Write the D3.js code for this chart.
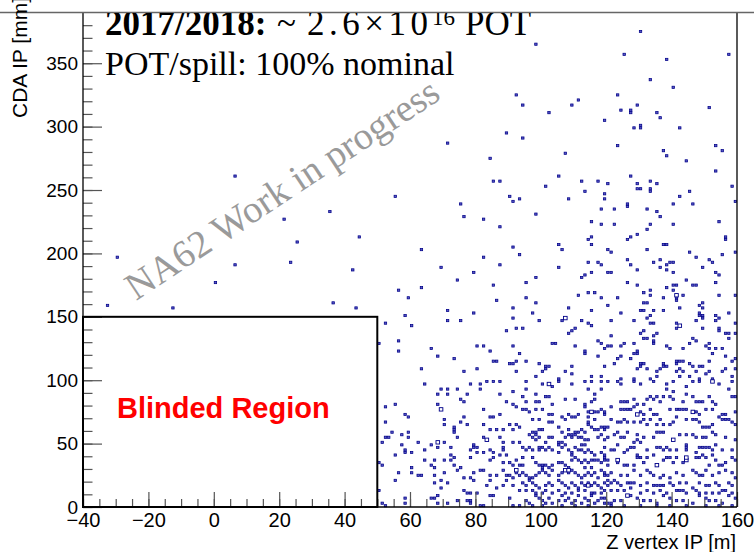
<!DOCTYPE html>
<html><head><meta charset="utf-8">
<script src="https://cdn.jsdelivr.net/npm/d3@7"></script>
<style>body{margin:0;background:#fff}svg{display:block}</style>
</head><body>
<svg id="c" width="754" height="552"></svg>
<script>
// ---- data: [Z vertex bin (m), CDA bin (mm)] ----
const sparseUpper = [[130,374],[98,364],[125,356],[157,356],[138,352],[133,336],[140,330],[92,324],[94,316],[102,310],[109,316],[111,320],[123,324],[124,312],[127,312],[127,310],[129,316],[135,310],[136,306],[151,314],[119,304],[128,298],[130,300],[130,298],[142,298],[89,294],[94,290],[71,286],[123,284],[153,284],[155,280],[137,280],[138,276],[107,278],[84,274],[144,272],[153,264],[105,260],[127,260],
[6,260],[55,244],[35,232],[21,226],[25,208],[44,212],[-30,196],[6,190],[23,192],[42,186],[0,176],[56,170],[59,164],[-33,158],[-13,156],[36,160],[43,156],[58,150]];

const midBand = [[85,256],[87,256],[101,252],[112,256],[117,256],[120,254],[129,254],[133,256],[135,254],[158,252],
[129,250],[130,250],[133,250],[133,248],[113,248],[145,248],
[90,244],[91,240],[93,242],[108,242],[119,246],[119,242],[142,244],[159,240],
[75,238],[126,238],[126,236],[140,238],[146,238],[118,234],[122,234],[132,234],[135,232],[136,228],
[98,230],[76,228],[82,226],[87,220],[115,224],[118,222],[122,222],[133,222],[140,222],[154,224],[132,218],
[105,206],[106,202],[91,204],[93,198],[63,202],[82,196],[114,210],[115,212],[115,206],[126,210],[127,212],[129,214],[137,206],[138,206],[120,202],[121,200],[132,202],[145,200],[147,196],[155,198],[156,212],[156,210],[159,200],
[69,188],[79,184],[87,190],[105,188],[114,192],[117,192],[118,190],[126,194],[127,190],[129,186],[136,194],[134,192],[138,190],[139,192],[140,192],[136,188],[138,186],[140,184],[151,194],[152,192],[149,188],[153,184],[154,182],
[74,178],[85,174],[95,176],[98,180],[63,172],[113,182],[112,180],[115,184],[120,184],[121,184],[126,176],[129,174],[133,170],[131,168],[133,166],[140,174],[141,174],[138,172],[140,170],[141,164],[143,166],[144,178],[146,174],[147,174],[153,176],[159,166],
[86,162],[91,156],[95,164],[98,160],[111,166],[114,168],[116,168],[118,164],[123,164],[120,158],[131,160],[132,160],[137,164],[141,162],[142,156],[149,160],[148,158],[149,156],[154,166],
[71,154],[79,152],[91,148],[97,152],[108,156],[115,154],[124,152],[130,154],[131,154],[134,154],[137,154],[133,150],[132,148],[148,152],[148,150],[149,150],[149,148],[153,150],[154,148],[157,152],[71,146],[75,146],[99,146],[106,146],[112,146],[121,146],[128,146],[133,144],[134,144],[147,146],[153,146],[141,144],[159,144],
[89,138],[92,140],[94,140],[108,136],[109,138],[110,140],[114,144],[115,142],[121,134],[130,136],[131,138],[135,136],[134,134],[141,140],[149,140],[154,140],[154,138],[156,136],[157,136],[159,136],
[66,124],[68,118],[73,116],[80,126],[82,126],[84,122],[85,114],[86,114],[91,126],[93,120],[92,114],[91,112],[90,112],[95,114],[99,112],[103,128],[104,128],[110,126],[113,122],[113,120],[117,130],[118,128],[117,118],[120,126],[121,126],[119,124],[124,126],[125,128],[128,128],[124,118],[123,116],[128,120],[129,122],[129,120],[131,132],[132,132],[134,130],[134,128],[138,126],[139,124],[143,124],[145,128],[146,132],[147,130],[150,126],[151,128],[151,124],[152,120],[153,124],[155,124],[157,132],[156,118],
[63,108],[76,106],[80,108],[92,106],[101,110],[102,110],[101,108],[100,106],[107,106],[109,110],[109,104],[119,110],[122,112],[127,116],[130,112],[131,112],[130,110],[132,108],[129,108],[135,106],[136,108],[137,112],[137,110],[138,110],[141,114],[142,114],[143,114],[141,112],[142,108],[141,106],[143,106],[145,112],[146,110],[148,110],[149,110],[147,106],[150,104],[151,114],[151,106],[155,106],[156,108],[158,114],[158,102],[159,116],[159,108],
[98,102],[105,100],[115,102],[118,102],[124,100],[128,100],[133,100],[135,102],[142,102],[145,102],[148,100],[152,100]];

const nearBox = [[52,144],[60,142],[50,128],[56,130],[56,122],[64,96],[69,92],[71,92],[74,92],[68,88],[71,88],[77,88],[75,84],[76,82],[52,78],[55,80],[68,80],[69,76],[58,72],[59,70],[76,70],[52,66],[70,68],[70,64],[75,66],[77,64],[54,58],[59,58],[73,62],[73,60],[73,58],[52,54],[53,54],[57,56],[59,54],[74,54],[51,50],[57,48],[62,50],[66,48],[68,50],[70,50],[68,46],[72,46],[58,44],[58,42],[60,42],[55,40],[64,44],[72,40],[73,38],[64,36],[67,36],[70,36],[72,36],[50,34],[51,32],[66,32],[67,30],[73,32],[75,30],[74,28],[60,30],[60,26],[56,26],[62,24],[63,24],[67,24],[70,26],[55,20],[69,20],[71,18],[67,18],[76,22],[50,12],[76,12],[69,14],[77,10],[68,8],[66,6],[67,6],[77,4],[58,6],[51,2],[52,0],[58,2],[68,2],[71,2],[74,4],[78,96],[79,48],[78,22],[78,10],[80,10],[78,4],[78,2]];

const edgeBand = [[81,96],[81,92],[83,98],[85,98],[87,98],[95,98],[95,92],[100,96],[102,96],[103,94],[105,98],[109,96],[113,98],[114,92],[115,98],[118,98],[118,92],[120,98],[123,98],[124,96],[128,98],[130,96],[134,98],[138,96],[140,98],[144,94],[146,98],[148,98],[152,98],[154,96],[158,98],[157,92],[138,92],[91,90],[98,88],[140,90],[144,88],[116,88]];

const coreLeft = [[87,88],[89,82],[91,80],[94,86],[95,82],[98,82],[99,82],[101,86],[102,86],[103,80],[107,84],[110,84],[113,80],[115,82],[116,84],
[82,76],[84,70],[85,70],[87,72],[92,78],[94,76],[95,76],[96,74],[98,76],[100,76],[102,72],[103,72],[106,70],[107,68],[108,72],[109,70],[110,70],[111,72],[113,78],[114,74],[115,74],[116,74],[117,74],[118,76],[119,72],[114,70],[114,66],[116,68],
[97,68],[99,68],[102,66],[103,66],[92,64],[91,60],[93,62],[90,64],[82,64],[84,60],[86,60],[88,60],[99,60],[100,60],[97,58],[98,56],[98,58],[105,62],[106,58],[108,60],[109,56],[110,58],[111,58],[112,60],[113,58],[115,62],[116,60],[117,60],[118,62],[119,62],[114,64],
[82,54],[83,52],[87,54],[88,50],[91,50],[93,50],[96,56],[97,54],[99,54],[101,50],[102,54],[103,54],[105,50],[106,50],[107,54],[108,56],[109,54],[110,56],[111,54],[112,54],[113,52],[114,52],[117,54],[118,56],[119,52],[98,52],
[78,44],[79,46],[80,46],[80,42],[82,42],[84,44],[85,42],[88,46],[88,44],[89,40],[87,40],[94,46],[95,44],[96,46],[97,44],[99,46],[99,44],[100,46],[101,44],[102,46],[103,44],[105,48],[105,42],[106,46],[107,48],[108,44],[109,40],[109,42],[110,46],[111,44],[112,44],[113,42],[114,44],[115,42],[116,40],[118,42],[119,40],[112,48],[113,48],
[78,38],[84,36],[85,38],[88,34],[90,34],[92,36],[94,38],[97,38],[98,34],[99,32],[100,32],[101,32],[103,32],[105,34],[106,34],[107,32],[109,36],[110,38],[111,36],[112,34],[113,36],[114,34],[115,36],[116,36],[117,36],[118,34],[119,36],[91,32],[93,32],[94,32],[102,30],[100,30],[108,30],[113,30],[115,30],
[79,26],[81,28],[82,28],[84,24],[86,24],[88,28],[89,24],[90,24],[91,22],[92,26],[93,24],[94,26],[95,24],[96,22],[97,22],[98,24],[99,26],[100,28],[101,26],[102,24],[103,28],[105,24],[106,26],[107,28],[108,26],[109,28],[110,26],[111,24],[112,22],[113,24],[114,26],[115,24],[116,26],[117,22],[118,28],[119,24],[79,20],
[83,16],[84,20],[86,14],[88,16],[89,20],[91,16],[94,18],[95,16],[96,20],[97,18],[98,16],[99,14],[101,16],[102,18],[103,16],[105,20],[106,18],[107,16],[108,14],[109,18],[110,16],[111,14],[112,18],[113,16],[114,18],[115,16],[116,18],[117,16],[118,14],[119,18],[93,12],[95,12],[97,12],[98,10],[100,10],[101,12],[103,10],[105,12],[107,10],[109,10],[111,12],[113,12],[115,10],[116,10],[118,10],
[84,8],[85,8],[90,6],[95,4],[96,2],[98,8],[99,6],[100,4],[101,2],[102,6],[103,2],[105,4],[106,8],[107,4],[108,6],[109,2],[110,4],[111,8],[112,2],[113,6],[114,4],[115,8],[116,2],[117,4],[118,6],[119,2],[91,0],[82,0],[81,0],[93,0],[97,0],[106,0],[110,0],[114,0],[100,0]];

const coreRight = [[124,82],[125,82],[126,82],[128,84],[129,80],[131,80],[132,84],[133,86],[134,84],[135,86],[136,82],[137,86],[139,86],[140,84],[143,82],[146,86],[147,82],[148,82],[149,82],[151,86],[152,82],[153,80],[158,86],[159,86],
[119,74],[121,78],[124,76],[125,76],[126,76],[127,76],[128,78],[130,74],[131,72],[133,76],[134,72],[135,72],[139,76],[141,76],[142,76],[143,76],[144,76],[146,74],[147,74],[148,72],[150,76],[152,76],[155,72],[156,72],[159,74],
[121,68],[123,66],[124,66],[125,68],[126,66],[128,66],[130,66],[131,68],[132,64],[133,68],[135,64],[136,68],[137,64],[139,64],[140,66],[141,70],[144,68],[146,68],[147,68],[148,66],[149,62],[150,62],[151,62],[152,64],[154,70],[155,68],[156,68],[157,68],[158,66],[159,64],[120,62],[119,60],
[120,54],[122,56],[123,58],[124,54],[125,54],[126,58],[129,56],[131,54],[134,54],[135,58],[136,58],[137,58],[140,52],[142,56],[144,56],[146,56],[147,54],[149,54],[150,54],[152,58],[153,56],[156,54],[159,52],[128,50],[129,52],[130,50],
[119,46],[121,44],[122,44],[123,48],[125,42],[126,44],[127,46],[128,46],[129,40],[132,44],[134,40],[135,46],[136,46],[137,44],[138,46],[139,44],[141,44],[144,48],[144,46],[144,44],[147,42],[148,46],[149,46],[150,46],[151,46],[152,44],[153,48],[155,44],[158,44],
[119,38],[120,36],[123,36],[123,34],[125,32],[126,32],[128,32],[129,38],[130,38],[131,34],[132,38],[135,32],[137,36],[138,38],[139,38],[140,34],[141,38],[143,34],[144,36],[147,38],[148,38],[149,40],[150,38],[151,32],[152,40],[153,36],[154,32],[155,32],[156,34],[158,38],[159,36],[120,32],
[119,26],[120,24],[121,26],[124,24],[126,24],[128,28],[130,24],[132,28],[133,26],[134,24],[136,22],[137,24],[139,22],[141,26],[143,24],[146,28],[147,26],[148,24],[149,24],[150,28],[152,24],[154,26],[156,28],[158,26],[159,22],[120,20],[122,20],
[120,16],[121,18],[123,18],[124,16],[126,18],[127,18],[128,18],[130,16],[132,18],[134,16],[135,16],[136,16],[137,16],[139,18],[140,16],[142,18],[144,18],[146,14],[147,12],[148,18],[150,16],[151,16],[153,18],[154,16],[155,12],[157,18],[158,16],[119,12],[121,12],[123,12],[125,12],[127,14],[130,10],[132,12],[134,10],[136,12],[138,10],[141,12],[142,12],[143,12],[144,10],[148,10],[150,10],[152,10],[154,10],[156,12],[158,10],
[119,6],[120,2],[121,2],[122,4],[124,4],[126,8],[127,8],[129,6],[131,4],[133,4],[135,2],[137,8],[139,6],[141,4],[143,4],[146,2],[148,8],[150,6],[151,4],[153,4],[155,2],[157,8],[159,6],[121,0],[125,0],[130,0],[135,0],[139,0],[144,0],[150,0],[154,0],[158,0]];

// bins holding two events (drawn as larger boxes)
const doubleBins = [[69,76],[68,50],[142,142],[141,166],[107,148],[102,96],[152,98],[115,74],[129,72],[83,52],[107,28],[135,32],[92,28],[144,36],[146,74],[140,52],[144,38],[123,36],[126,8],[108,28],[114,16]];

const xMajor = [-40,-20,0,20,40,60,80,100,120,140,160];
const yMajor = [0,50,100,150,200,250,300,350];
const blinded = {zMin:-40, zMax:50, cdaMax:150};
const xDomain = [-40,160], yDomain = [0,390];
const binZ = 1, binCDA = 2;

// ---- drawing ----
const svg = d3.select("#c");
const L=83, R=737, T=12.5, B=507;
const x = d3.scaleLinear().domain(xDomain).range([L,R]);
const y = d3.scaleLinear().domain(yDomain).range([B,T]);

const allEvents = [].concat(sparseUpper, midBand, nearBox, edgeBand, coreLeft, coreRight);

const gm = svg.append("g");
gm.selectAll("rect.e").data(allEvents).join("rect").attr("class","e")
  .attr("x", d=>x(d[0]+binZ/2)-1.2).attr("y", d=>y(d[1]+binCDA/2)-1.1)
  .attr("width",2.4).attr("height",2.2)
  .attr("fill","#5858c4").attr("stroke","#000088").attr("stroke-width",0.75);
gm.selectAll("rect.d").data(doubleBins).join("rect").attr("class","d")
  .attr("x", d=>x(d[0]+binZ/2)-1.8).attr("y", d=>y(d[1]+binCDA/2)-1.7)
  .attr("width",3.6).attr("height",3.4)
  .attr("fill","#fff").attr("stroke","#000088").attr("stroke-width",0.9);

// ticks
const tickCol = "#555";
const gx = svg.append("g").attr("transform",`translate(0,${B})`);
gx.call(d3.axisTop(x).tickValues(d3.range(-40,161,5)).tickSize(8).tickFormat(""));
const gx2 = svg.append("g").attr("transform",`translate(0,${B})`);
gx2.call(d3.axisTop(x).tickValues(xMajor).tickSize(15).tickFormat(""));
const gxl = svg.append("g").attr("transform",`translate(0,${B})`);
gxl.call(d3.axisBottom(x).tickValues(xMajor).tickSize(0).tickPadding(6));
gxl.selectAll("text").attr("font-family","'Liberation Sans',Arial,sans-serif").attr("font-size",20).attr("fill","#000");

const gy = svg.append("g").attr("transform",`translate(${L},0)`);
gy.call(d3.axisRight(y).tickValues(d3.range(0,381,10)).tickSize(9.5).tickFormat(""));
const gy2 = svg.append("g").attr("transform",`translate(${L},0)`);
gy2.call(d3.axisRight(y).tickValues(yMajor).tickSize(19).tickFormat(""));
const gyl = svg.append("g").attr("transform",`translate(${L},0)`);
gyl.call(d3.axisLeft(y).tickValues(yMajor).tickSize(0).tickPadding(5));
gyl.selectAll("text").attr("font-family","'Liberation Sans',Arial,sans-serif").attr("font-size",19).attr("fill","#000");

[gx,gx2,gy,gy2].forEach(g=>{g.select(".domain").remove(); g.selectAll("line").attr("stroke",tickCol).attr("stroke-width",1.2);});
[gxl,gyl].forEach(g=>g.select(".domain").remove());

// frame lines
svg.append("line").attr("x1",L).attr("x2",R).attr("y1",B).attr("y2",B).attr("stroke","#000").attr("stroke-width",1.3);
svg.append("line").attr("x1",L).attr("x2",L).attr("y1",T).attr("y2",B).attr("stroke","#000").attr("stroke-width",1.3);
svg.append("line").attr("x1",R).attr("x2",R).attr("y1",T).attr("y2",B).attr("stroke","#000").attr("stroke-width",1.3);
svg.append("line").attr("x1",0).attr("x2",754).attr("y1",T).attr("y2",T).attr("stroke","#666").attr("stroke-width",1.3);

// blinded region
svg.append("rect").attr("x",x(blinded.zMin)).attr("y",y(blinded.cdaMax))
  .attr("width",x(blinded.zMax)-x(blinded.zMin)).attr("height",y(0)-y(blinded.cdaMax))
  .attr("fill","none").attr("stroke","#000").attr("stroke-width",2);
svg.append("text").attr("x",117).attr("y",418).text("Blinded Region")
  .attr("font-family","'Liberation Sans',Arial,sans-serif").attr("font-weight","bold")
  .attr("font-size",29).attr("fill","#ff0000");

// watermark
svg.append("text").attr("transform","translate(136,301) rotate(-33.5)")
  .text("NA62 Work in progress").attr("font-family","'Liberation Serif','Times New Roman',serif")
  .attr("font-size",38.5).attr("fill","#9a9a9a");

// title block (clipped at top line)
svg.append("clipPath").attr("id","clipT").append("rect").attr("x",0).attr("y",T+0.6).attr("width",754).attr("height",552);
const gt = svg.append("g").attr("clip-path","url(#clipT)").attr("font-family","'Liberation Serif','Times New Roman',serif").attr("fill","#000");
gt.append("text").attr("x",105).attr("y",35).attr("font-size",35).attr("font-weight","bold").text("2017/2018:");
gt.append("text").attr("x",277).attr("y",35).attr("font-size",35).text("~");
gt.append("text").attr("x",307).attr("y",35).attr("font-size",35).attr("textLength",121).attr("lengthAdjust","spacing").text("2.6×10");
gt.append("text").attr("x",432).attr("y",25).attr("font-size",23).text("16");
gt.append("text").attr("x",465).attr("y",35).attr("font-size",35).text("POT");
gt.append("text").attr("x",105).attr("y",75).attr("font-size",34).text("POT/spill: 100% nominal");

// axis titles
svg.append("text").attr("x",736).attr("y",549).attr("text-anchor","end")
  .attr("font-family","'Liberation Sans',Arial,sans-serif").attr("font-size",20).text("Z vertex IP [m]");
svg.append("text").attr("transform","translate(27,118) rotate(-90)")
  .attr("font-family","'Liberation Sans',Arial,sans-serif").attr("font-size",21).text("CDA IP [mm]");
</script>
</body></html>
